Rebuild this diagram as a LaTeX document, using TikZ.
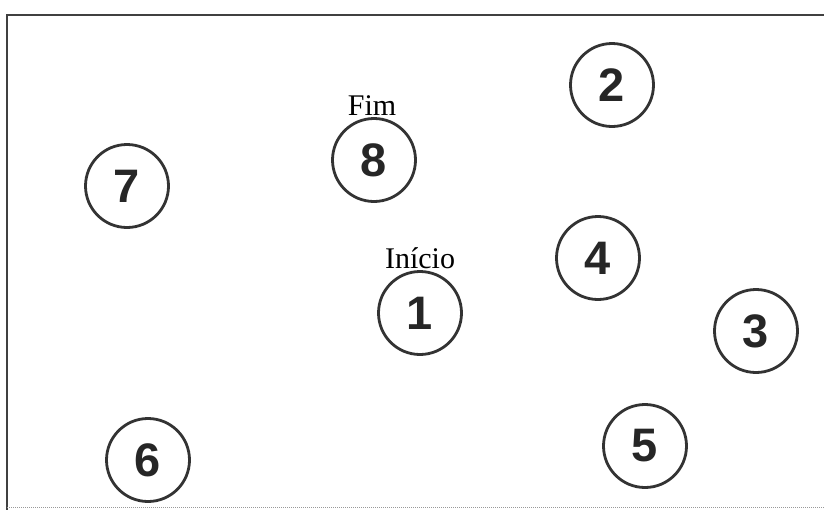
\documentclass[tikz,border=0pt]{standalone}
\usepackage{fontspec}
\setmainfont{Liberation Serif}
\newfontfamily\numfont{Liberation Sans}
\usepackage{tikz}
\usetikzlibrary{positioning}

\begin{document}
\begin{tikzpicture}[x=1pt, y=-1pt,
    spot/.style={circle, draw=black!80, line width=2.8pt, minimum size=83pt,
      inner sep=0pt, font=\numfont\bfseries\fontsize{47}{47}\selectfont, text=black!85},
    tag/.style={font=\fontsize{30}{30}\selectfont, inner sep=1pt}]
    \useasboundingbox (0,0) rectangle (824,509);
    \clip (0,0) rectangle (824,509);
    % moldura
    \draw[line width=2.6pt, black!75] (840,15) -- (7,15) -- (7,520);
    \draw[line width=1pt, black!40, densely dotted] (7,507) -- (840,507);

    % pontos
    \node[spot] (n1) at (420,313) {1};
    \node[spot] (n2) at (612,85) {2};
    \node[spot] (n3) at (756,331) {3};
    \node[spot] (n4) at (598,258) {4};
    \node[spot] (n5) at (645,446) {5};
    \node[spot] (n6) at (148,460) {6};
    \node[spot] (n7) at (127,186) {7};
    \node[spot] (n8) at (374,160) {8};

    % inicio e fim
    \node[tag, above=0pt of n1] (inicio) {Início};
    \node[tag, above=0pt of n8, xshift=-2pt] (fim) {Fim};
\end{tikzpicture}
\end{document}
